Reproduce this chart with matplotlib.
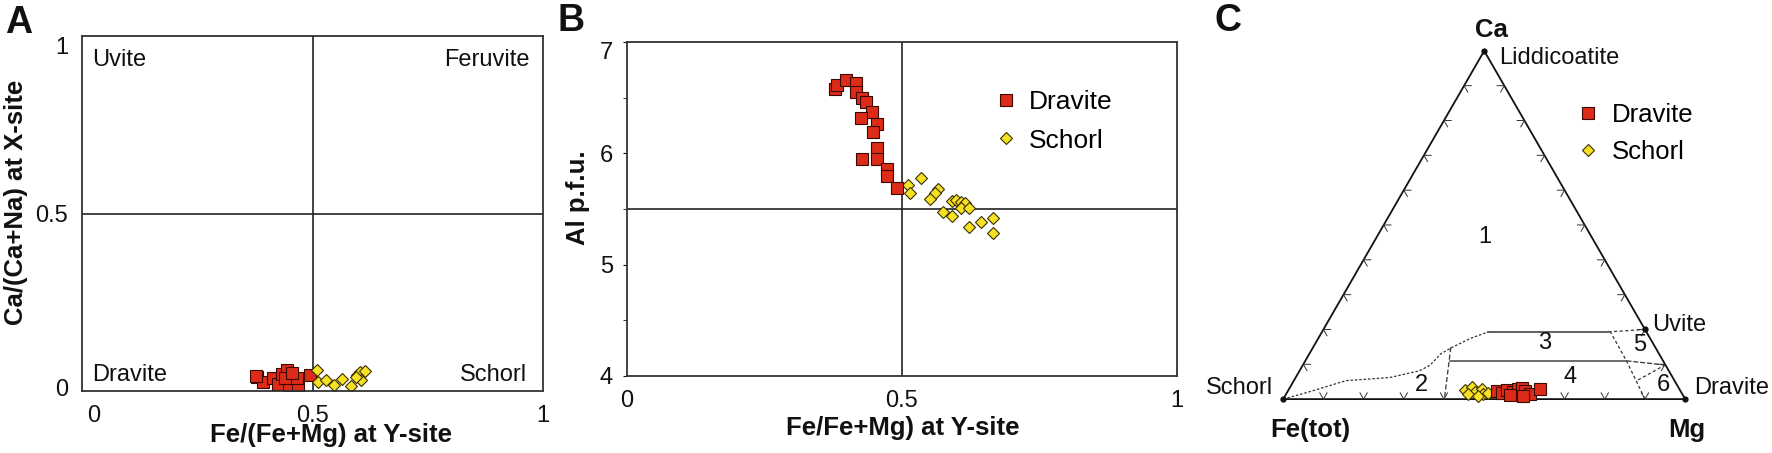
import matplotlib
matplotlib.use("Agg")
import matplotlib.pyplot as plt
import matplotlib.transforms as mtransforms
import numpy as np

plt.rcParams["font.family"] = ["Liberation Sans", "DejaVu Sans"]

W, H = 1772, 453
RED = "#dc2b18"
RED_EDGE = "#3a0800"
YEL = "#f7e124"
YEL_EDGE = "#3a3000"
INK = "#111111"

# ---- panel A: Fe/(Fe+Mg) vs Ca/(Ca+Na)
a_dravite_x = [0.379, 0.393, 0.415, 0.426, 0.433, 0.445, 0.450, 0.469, 0.467, 0.495, 0.440, 0.455, 0.378]
a_dravite_y = [0.040, 0.026, 0.036, 0.019, 0.047, 0.059, 0.017, 0.017, 0.037, 0.045, 0.036, 0.050, 0.042]
a_schorl_x = [0.509, 0.511, 0.529, 0.546, 0.563, 0.584, 0.596, 0.602, 0.614, 0.606, 0.594]
a_schorl_y = [0.059, 0.026, 0.031, 0.017, 0.034, 0.015, 0.045, 0.054, 0.057, 0.031, 0.040]
a_fields = ["Uvite", "Feruvite", "Dravite", "Schorl"]

# ---- panel B: Fe/(Fe+Mg) vs Al p.f.u.
b_dravite_x = [0.378, 0.381, 0.398, 0.416, 0.416, 0.428, 0.435, 0.445, 0.425, 0.455,
               0.447, 0.454, 0.427, 0.454, 0.472, 0.472, 0.490]
b_dravite_y = [6.58, 6.61, 6.66, 6.63, 6.55, 6.50, 6.46, 6.37, 6.32, 6.26,
               6.19, 6.05, 5.95, 5.95, 5.86, 5.80, 5.69]
b_schorl_x = [0.511, 0.515, 0.535, 0.566, 0.560, 0.551, 0.590, 0.599, 0.608, 0.615,
              0.607, 0.621, 0.575, 0.590, 0.621, 0.643, 0.666, 0.666]
b_schorl_y = [5.72, 5.64, 5.78, 5.68, 5.64, 5.59, 5.57, 5.58, 5.56, 5.55,
              5.51, 5.51, 5.47, 5.44, 5.34, 5.38, 5.42, 5.28]

# ---- panel C: ternary Ca - Fe(tot) - Mg (fractions)
c_dravite_ca = [0.024, 0.018, 0.026, 0.021, 0.028, 0.031, 0.024, 0.016, 0.028, 0.012, 0.009]
c_dravite_mg = [0.520, 0.535, 0.543, 0.562, 0.571, 0.578, 0.589, 0.606, 0.625, 0.558, 0.593]
c_schorl_ca = [0.026, 0.034, 0.021, 0.028, 0.014, 0.018, 0.016, 0.009]
c_schorl_mg = [0.439, 0.452, 0.467, 0.480, 0.491, 0.501, 0.452, 0.481]

# field boundaries as (ca, mg)
curve_12 = [(0, 0), (0.021, 0.0545), (0.053, 0.1295), (0.062, 0.234), (0.081, 0.2975),
            (0.097, 0.3165), (0.130, 0.327), (0.148, 0.345), (0.174, 0.378), (0.193, 0.4135)]
line_13 = [(0.193, 0.4135), (0.193, 0.7125)]
line_35 = [(0.193, 0.7125), (0.2, 0.8)]
line_34 = [(0.110, 0.36), (0.110, 0.799), (0.098, 0.901)]
line_24 = [(0.149, 0.3425), (0.0, 0.401)]
line_456 = [(0.195, 0.7155), (0.110, 0.799), (0.0, 0.9)]
line_56 = [(0.055, 0.8555), (0.098, 0.901)]
field_labels = ["1", "2", "3", "4", "5", "6"]
field_ca = [0.465, 0.040, 0.160, 0.064, 0.155, 0.040]
field_mg = [0.2685, 0.325, 0.571, 0.682, 0.8095, 0.926]


def box(fig, left, top, right, bottom):
    return fig.add_axes([left / W, 1 - bottom / H, (right - left) / W, (bottom - top) / H])


def ftext(fig, x, y, s, **kw):
    kw.setdefault("color", INK)
    return fig.text(x / W, 1 - y / H, s, **kw)


def nudge(fig, label, dx, dy):
    # shift a tick label by dx, dy pixels (dy positive = down)
    off = mtransforms.ScaledTranslation(dx / 100, -dy / 100, fig.dpi_scale_trans)
    label.set_transform(label.get_transform() + off)


def tern(ca, mg):
    ca = np.asarray(ca, dtype=float)
    mg = np.asarray(mg, dtype=float)
    return mg + ca / 2, ca * np.sqrt(3) / 2


def tern_line(ax, pts, **kw):
    ca, mg = zip(*pts)
    x, y = tern(ca, mg)
    ax.plot(x, y, **kw)


fig = plt.figure(figsize=(W / 100, H / 100), dpi=100)

sq = dict(ls="none", marker="s", ms=8.5, mfc=RED, mec=RED_EDGE, mew=0.8)
dm = dict(ls="none", marker="D", ms=6.5, mfc=YEL, mec=YEL_EDGE, mew=0.8)

# ================= A
axA = box(fig, 82, 36, 543, 391)
axA.set_xlim(0, 1)
axA.set_ylim(0, 1)
axA.axvline(0.5, color="#222222", lw=1.2)
axA.axhline(0.5, color="#222222", lw=1.2)
axA.plot(a_dravite_x, a_dravite_y, **sq)
axA.plot(a_schorl_x, a_schorl_y, **dm)
axA.set_xticks([0, 0.5, 1])
axA.set_xticklabels(["0", "0.5", "1"])
axA.set_yticks([0, 0.5, 1])
axA.set_yticklabels(["0", "0.5", "1"])
axA.tick_params(length=0, labelsize=17, pad=10, colors=INK)
nudge(fig, axA.get_xticklabels()[0], 12, 0)
nudge(fig, axA.get_yticklabels()[0], 0, -4)
nudge(fig, axA.get_yticklabels()[2], 0, 9)
for s in axA.spines.values():
    s.set_color("#333333")
    s.set_linewidth(1.3)
axA.text(0.022, 0.932, a_fields[0], transform=axA.transAxes, fontsize=17, va="center", color=INK)
axA.text(0.971, 0.932, a_fields[1], transform=axA.transAxes, fontsize=17, va="center", ha="right", color=INK)
axA.text(0.022, 0.045, a_fields[2], transform=axA.transAxes, fontsize=17, va="center", color=INK)
axA.text(0.965, 0.045, a_fields[3], transform=axA.transAxes, fontsize=17, va="center", ha="right", color=INK)
ftext(fig, 331, 435, "Fe/(Fe+Mg) at Y-site", fontsize=18.5, fontweight="bold", ha="center", va="center")
ftext(fig, 16, 202, "Ca/(Ca+Na) at X-site", fontsize=18.5, fontweight="bold", ha="center", va="center",
      rotation=90)
ftext(fig, 5, 5, "A", fontsize=27, fontweight="bold", va="top")

# ================= B
axB = box(fig, 627, 42, 1177, 376)
axB.set_xlim(0, 1)
axB.set_ylim(4, 7)
axB.axvline(0.5, color="#222222", lw=1.2)
axB.axhline(5.5, color="#222222", lw=1.2)
axB.plot(b_schorl_x, b_schorl_y, label="Schorl", **dm)
axB.plot(b_dravite_x, b_dravite_y, label="Dravite", **sq)
axB.set_xticks([0, 0.5, 1])
axB.set_xticklabels(["0", "0.5", "1"])
axB.set_yticks([4, 5, 6, 7])
axB.set_yticks([4.5, 5.5, 6.5], minor=True)
axB.tick_params(axis="x", length=0, labelsize=17, pad=10, colors=INK)
axB.tick_params(axis="y", which="both", direction="out", length=3, labelsize=17, pad=7, colors=INK)
nudge(fig, axB.get_yticklabels()[3], 0, 8)
for s in axB.spines.values():
    s.set_color("#333333")
    s.set_linewidth(1.3)
hB, lB = axB.get_legend_handles_labels()
axB.legend(hB[::-1], lB[::-1], loc="upper left", bbox_to_anchor=(995 / W, 1 - 90 / H),
           bbox_transform=fig.transFigure, frameon=False, fontsize=19, handlelength=0.8,
           handletextpad=0.5, labelspacing=0.55, borderaxespad=0, borderpad=0)
ftext(fig, 903, 428, "Fe/Fe+Mg) at Y-site", fontsize=18.5, fontweight="bold", ha="center", va="center")
ftext(fig, 578, 198, "Al p.f.u.", fontsize=18.5, fontweight="bold", ha="center", va="center", rotation=90)
ftext(fig, 558, 3, "B", fontsize=27, fontweight="bold", va="top")

# ================= C
axC = fig.add_axes([1200 / W, 0, 572 / W, 1])
axC.set_xlim(-0.207, 1.216)
axC.set_ylim(-0.134, 0.9925)
axC.axis("off")
r3 = np.sqrt(3) / 2
axC.plot([0, 1, 0.5, 0], [0, 0, r3, 0], color="#111111", lw=1.3)
L = 0.018
for i in range(1, 10):
    f = i / 10
    # bottom edge
    axC.plot([f - L / 2, f, f + L / 2], [L * r3, 0, L * r3], color="#333333", lw=0.7)
    # left edge
    px, py = f / 2, f * r3
    axC.plot([px + L, px, px + L / 2], [py, py, py - L * r3], color="#333333", lw=0.7)
    # right edge
    px = 1 - f / 2
    axC.plot([px - L, px, px - L / 2], [py, py, py - L * r3], color="#333333", lw=0.7)

tern_line(axC, curve_12, color="#333333", lw=0.9, dashes=(2, 1.5))
tern_line(axC, line_13, color="#333333", lw=1.1)
tern_line(axC, line_35, color="#333333", lw=0.9, dashes=(2.5, 2))
tern_line(axC, line_34[:2], color="#444444", lw=1.1)
tern_line(axC, line_34[1:], color="#333333", lw=0.9, dashes=(4, 1.5))
tern_line(axC, line_24, color="#333333", lw=0.9, dashes=(4, 2))
tern_line(axC, line_456, color="#333333", lw=0.9, dashes=(2.5, 2))
tern_line(axC, line_56, color="#333333", lw=0.9, dashes=(2.5, 2))
for lab, ca, mg in zip(field_labels, field_ca, field_mg):
    x, y = tern(ca, mg)
    axC.text(x, y, lab, fontsize=17, ha="center", va="center", color=INK)

vx, vy = tern([0, 0, 1, 0.2], [0, 1, 0, 0.8])
axC.plot(vx, vy, "o", ms=3.5, color="#111111")

cx, cy = tern(c_schorl_ca, c_schorl_mg)
axC.plot(cx, cy, label="Schorl", **dm)
cx, cy = tern(c_dravite_ca, c_dravite_mg)
axC.plot(cx, cy, label="Dravite", **sq)
hC, lC = axC.get_legend_handles_labels()
axC.legend(hC[::-1], lC[::-1], loc="upper left", bbox_to_anchor=(1578 / W, 1 - 103 / H),
           bbox_transform=fig.transFigure, frameon=False, fontsize=18.5, handlelength=0.8,
           handletextpad=0.5, labelspacing=0.5, borderaxespad=0, borderpad=0)

ftext(fig, 1491, 30, "Ca", fontsize=18.5, fontweight="bold", ha="center", va="center")
ftext(fig, 1499, 58, "Liddicoatite", fontsize=17, va="center")
ftext(fig, 1652, 325, "Uvite", fontsize=17, va="center")
ftext(fig, 1273, 388, "Schorl", fontsize=17, va="center", ha="right")
ftext(fig, 1694, 388, "Dravite", fontsize=17, va="center")
ftext(fig, 1310, 430, "Fe(tot)", fontsize=18.5, fontweight="bold", ha="center", va="center")
ftext(fig, 1687, 430, "Mg", fontsize=18.5, fontweight="bold", ha="center", va="center")
ftext(fig, 1214, 3, "C", fontsize=27, fontweight="bold", va="top")

fig.savefig("out.png", dpi=100, facecolor="white")
